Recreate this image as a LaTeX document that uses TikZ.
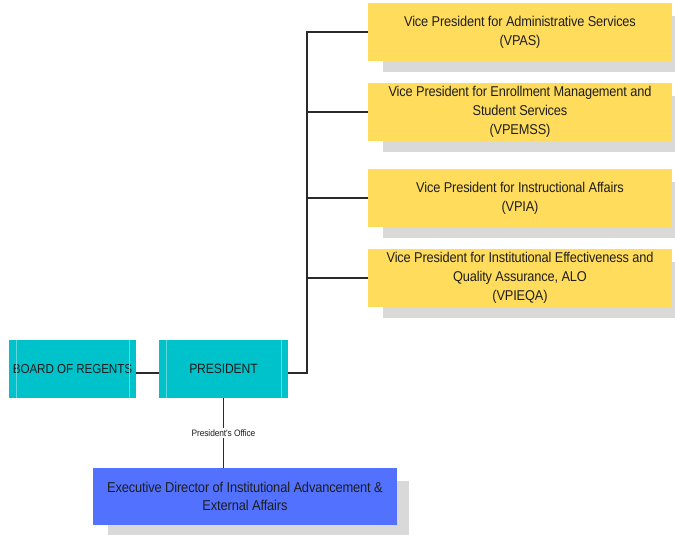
\documentclass[tikz,border=0pt]{standalone}
\usepackage{fontspec}
\setmainfont{Liberation Sans}
\newfontfamily\tightfont[FakeStretch=0.9,LetterSpace=-1]{Liberation Sans}
\usetikzlibrary{backgrounds}
\definecolor{vyellow}{HTML}{FFDC5C}
\definecolor{shadowgrey}{HTML}{D9D9D9}
\definecolor{teal}{HTML}{00C2CB}
\definecolor{tealline}{HTML}{5FD8DE}
\definecolor{edblue}{HTML}{5271FF}
\definecolor{txt}{HTML}{1E1E1E}
\definecolor{linec}{HTML}{2A2A2A}
\tikzset{
  vpbox/.style={fill=vyellow, minimum width=304, minimum height=58, inner sep=0, align=center, text=txt, font=\tightfont\fontsize{14.2}{19}\selectfont},
  tealbox/.style={fill=teal, minimum height=58, inner sep=0, align=center, text=txt},
  edbox/.style={fill=edblue, minimum width=304, minimum height=57, inner sep=0, align=center, text=txt, font=\tightfont\fontsize{14.3}{18.5}\selectfont},
  conn/.style={draw=linec, line width=1.2},
  shade/.style={fill=shadowgrey},
}
\begin{document}
\begin{tikzpicture}[x=1pt,y=-1pt]
\useasboundingbox (0,0) rectangle (675,535);
% nodes
\node[vpbox] (vpas) at (520,32) {Vice President for Administrative Services\\(VPAS)};
\node[vpbox] (vpemss) at (520,112) {Vice President for Enrollment Management and\\Student Services\\(VPEMSS)};
\node[vpbox] (vpia) at (520,198) {Vice President for Instructional Affairs\\(VPIA)};
\node[vpbox] (vpieqa) at (520,278) {Vice President for Institutional Effectiveness and\\Quality Assurance, ALO\\(VPIEQA)};
\node[tealbox, minimum width=129, font=\tightfont\fontsize{13.5}{15}\selectfont] (pres) at (223.5,369) {PRESIDENT};
\node[tealbox, minimum width=127, font=\tightfont\fontsize{13}{15}\selectfont] (bor) at (72.5,369) {BOARD OF REGENTS};
\node[edbox] (ed) at (245,496.5) {Executive Director of Institutional Advancement \&\\External Affairs};
% background and shadows
\begin{scope}[on background layer]
\fill[white] (0,0) rectangle (675,535);
\foreach \n in {vpas,vpemss,vpia,vpieqa,ed}{
  \fill[shade] ([shift={(15,13)}]\n.north west) rectangle ([shift={(12,11)}]\n.south east);
}
\end{scope}
% inner lines of teal boxes
\foreach \n in {pres,bor}{
  \draw[tealline, line width=0.6] ([xshift=7]\n.north west) -- ([xshift=7]\n.south west);
  \draw[tealline, line width=0.6] ([xshift=-7]\n.north east) -- ([xshift=-7]\n.south east);
}
% connectors
\coordinate (tb) at (307,373);
\draw[conn] (bor.east |- tb) -- (pres.west |- tb);
\draw[conn] (pres.east |- tb) -- (tb) -- (tb |- vpas.west) -- (vpas.west);
\draw[conn] (tb |- vpemss.west) -- (vpemss.west);
\draw[conn] (tb |- vpia.west) -- (vpia.west);
\draw[conn] (tb |- vpieqa.west) -- (vpieqa.west);
\draw[conn] (pres.south) -- node[fill=white, inner sep=2, text=txt, font=\tightfont\fontsize{9.3}{10}\selectfont] {President's Office} (pres.south |- ed.north);
\end{tikzpicture}
\end{document}
